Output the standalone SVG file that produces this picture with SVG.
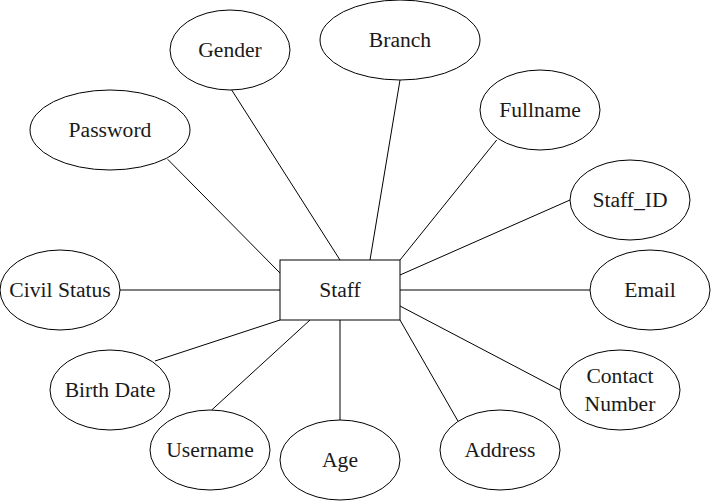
<svg xmlns="http://www.w3.org/2000/svg" width="711" height="502" viewBox="0 0 711 502">
<style>
.n{fill:#fff;stroke:#000;stroke-width:1}
.t{font-size:21.6px;fill:#1a1a1a;text-anchor:middle}
.c line{stroke:#000;stroke-width:1}
</style>
<rect width="711" height="502" fill="#fff"/>
<g class="c" id="connectors">
<line x1="231.7" y1="90" x2="340" y2="260"/>
<line x1="167.7" y1="159.3" x2="280" y2="273"/>
<line x1="400" y1="80" x2="370" y2="260"/>
<line x1="496.7" y1="140" x2="400" y2="260"/>
<line x1="570" y1="200" x2="400" y2="275"/>
<line x1="120" y1="290" x2="280" y2="290"/>
<line x1="400" y1="290" x2="590" y2="290"/>
<line x1="155" y1="361" x2="280" y2="320"/>
<line x1="211.7" y1="410" x2="310" y2="320"/>
<line x1="340" y1="320" x2="340" y2="420"/>
<line x1="400" y1="306" x2="560" y2="390"/>
<line x1="400" y1="320" x2="458.3" y2="421.7"/>
</g>
<g font-family="Liberation Serif, DejaVu Serif, serif">
<g id="staff"><rect class="n" x="280" y="260" width="120" height="60"/><text class="t" x="340" y="297.3">Staff</text></g>
<g id="gender"><ellipse class="n" cx="230" cy="50" rx="60" ry="40"/><text class="t" x="230" y="57.3">Gender</text></g>
<g id="branch"><ellipse class="n" cx="400" cy="40" rx="80" ry="40"/><text class="t" x="400" y="47.3">Branch</text></g>
<g id="password"><ellipse class="n" cx="110" cy="130" rx="80" ry="40"/><text class="t" x="110" y="137.3">Password</text></g>
<g id="fullname"><ellipse class="n" cx="540" cy="110" rx="60" ry="40"/><text class="t" x="540" y="117.3">Fullname</text></g>
<g id="staff_id"><ellipse class="n" cx="630" cy="200" rx="60" ry="40"/><text class="t" x="630" y="207.3">Staff_ID</text></g>
<g id="civil_status"><ellipse class="n" cx="60" cy="290" rx="60" ry="40"/><text class="t" x="60" y="297.3">Civil Status</text></g>
<g id="email"><ellipse class="n" cx="650" cy="290" rx="60" ry="40"/><text class="t" x="650" y="297.3">Email</text></g>
<g id="birth_date"><ellipse class="n" cx="110" cy="390" rx="60" ry="40"/><text class="t" x="110" y="397.3">Birth Date</text></g>
<g id="contact_number"><ellipse class="n" cx="620" cy="390" rx="60" ry="40"/><text class="t" x="620" y="383.3">Contact</text><text class="t" x="620" y="410.7">Number</text></g>
<g id="username"><ellipse class="n" cx="210" cy="450" rx="60" ry="40"/><text class="t" x="210" y="457.3">Username</text></g>
<g id="age"><ellipse class="n" cx="340" cy="460" rx="60" ry="40"/><text class="t" x="340" y="467.3">Age</text></g>
<g id="address"><ellipse class="n" cx="500" cy="450" rx="60" ry="40"/><text class="t" x="500" y="457.3">Address</text></g>
</g>
</svg>
